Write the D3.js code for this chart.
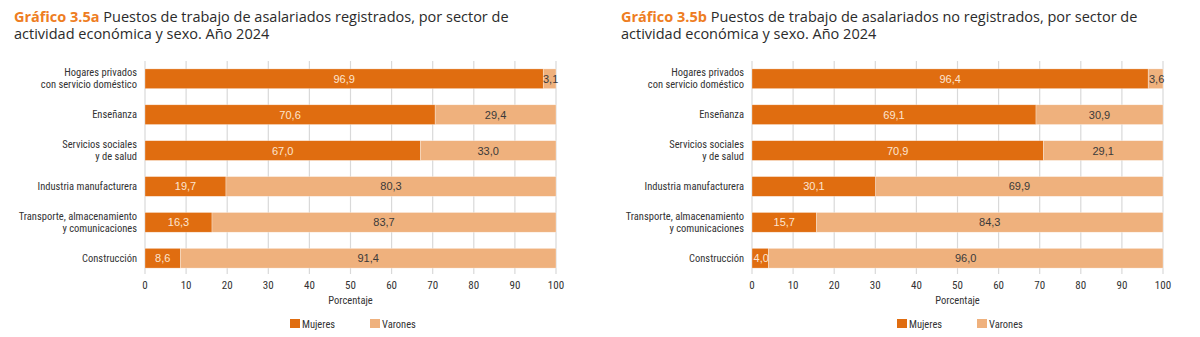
<!DOCTYPE html>
<html>
<head>
<meta charset="utf-8">
<script src="https://cdn.jsdelivr.net/npm/d3@7"></script>
<style>
  body { margin: 0; background: #fff; }
  svg { display: block; }
  .cond { font-family: "Liberation Sans Narrow", "Roboto Condensed", "DejaVu Sans Condensed", sans-serif; }
</style>
</head>
<body>
<div id="chart"></div>
<script>
// categories (top to bottom)
const categories = [
  "Hogares privados\ncon servicio doméstico",
  "Enseñanza",
  "Servicios sociales\ny de salud",
  "Industria manufacturera",
  "Transporte, almacenamiento\ny comunicaciones",
  "Construcción"
];

// Gráfico 3.5a - registrados
const mujeresReg = [96.9, 70.6, 67.0, 19.7, 16.3, 8.6];
const varonesReg = [3.1, 29.4, 33.0, 80.3, 83.7, 91.4];

// Gráfico 3.5b - no registrados
const mujeresNoReg = [96.4, 69.1, 70.9, 30.1, 15.7, 4.0];
const varonesNoReg = [3.6, 30.9, 29.1, 69.9, 84.3, 96.0];

const xTicks = [0, 10, 20, 30, 40, 50, 60, 70, 80, 90, 100];
const seriesNames = ["Mujeres", "Varones"];

const colors = { Mujeres: "#E06D10", Varones: "#EFB17D" };
const fmt = (v) => d3.format(".1f")(v).replace(".", ",");

const W = 1200, H = 337;
const svg = d3.select("#chart").append("svg")
  .attr("width", W).attr("height", H)
  .attr("viewBox", `0 0 ${W} ${H}`);

function drawChart({ x0, code, title, mujeres, varones }) {
  const g = svg.append("g");

  // Title
  const t = g.append("text")
    .attr("x", x0 - 131).attr("y", 22)
    .style("font-family", "'Open Sans', sans-serif")
    .style("font-size", "14.5px")
    .attr("fill", "#2b2b2b");
  t.append("tspan").attr("font-weight", "bold").attr("fill", "#EE7D22").text(code + " ");
  t.append("tspan").text(title[0]);
  g.append("text")
    .attr("x", x0 - 131).attr("y", 39)
    .style("font-family", "'Open Sans', sans-serif")
    .style("font-size", "14.5px")
    .attr("fill", "#2b2b2b")
    .text(title[1]);

  const x = d3.scaleLinear().domain([0, 100]).range([x0, x0 + 411]);
  const y = d3.scaleBand().domain(categories).range([61, 276])
    .paddingInner(0.45).paddingOuter(0.22);

  // Gridlines
  g.append("g").selectAll("line")
    .data(xTicks).enter().append("line")
    .attr("x1", (d) => x(d)).attr("x2", (d) => x(d))
    .attr("y1", 61).attr("y2", 274)
    .attr("stroke", "#d9d9d9").attr("stroke-width", 1.2);

  // Tick labels
  g.append("g").selectAll("text")
    .data(xTicks).enter().append("text")
    .attr("class", "cond")
    .attr("x", (d) => x(d)).attr("y", 289)
    .attr("text-anchor", "middle")
    .style("font-size", "11px")
    .attr("fill", "#333")
    .text((d) => d);

  g.append("text").attr("class", "cond")
    .attr("x", x(50)).attr("y", 304)
    .attr("text-anchor", "middle")
    .style("font-size", "10.5px")
    .attr("fill", "#333")
    .text("Porcentaje");

  // Category labels
  g.append("g").selectAll("text")
    .data(categories).enter().append("text")
    .attr("class", "cond")
    .attr("text-anchor", "end")
    .style("font-size", "10.5px")
    .attr("fill", "#333")
    .each(function (d) {
      const lines = d.split("\n");
      const cy = y(d) + y.bandwidth() / 2;
      const el = d3.select(this);
      lines.forEach((ln, i) => {
        el.append("tspan")
          .attr("x", x0 - 8)
          .attr("y", cy + 3.6 + (i - (lines.length - 1) / 2) * 12)
          .text(ln);
      });
    });

  // Stacked bars
  const rows = categories.map((c, i) => ({ cat: c, Mujeres: mujeres[i], Varones: varones[i] }));
  const stacked = d3.stack().keys(seriesNames)(rows);

  const layer = g.append("g").selectAll("g")
    .data(stacked).enter().append("g")
    .attr("fill", (d) => colors[d.key]);

  layer.selectAll("rect")
    .data((d) => d).enter().append("rect")
    .attr("x", (d) => x(d[0]))
    .attr("y", (d) => y(d.data.cat))
    .attr("width", (d) => x(d[1]) - x(d[0]))
    .attr("height", y.bandwidth())
    .attr("stroke", "#fff").attr("stroke-opacity", 0.5).attr("stroke-width", 0.6);

  layer.selectAll("text")
    .data((d) => d.map((v) => ({ v, key: d.key }))).enter().append("text")
    .attr("x", (d) => x((d.v[0] + d.v[1]) / 2) + (d.v[1] - d.v[0] < 5 ? 1 : 0))
    .attr("y", (d) => y(d.v.data.cat) + y.bandwidth() / 2 + 4)
    .attr("text-anchor", "middle")
    .style("font-family", "'Liberation Sans', Arial, sans-serif")
    .style("font-size", "11px")
    .attr("fill", (d) => d.key === "Mujeres" ? "#fde5d0" : "#3a3a3a")
    .text((d) => fmt(d.v[1] - d.v[0]));

  // Legend
  const lg = g.append("g");
  seriesNames.forEach((s, i) => {
    const lx = x0 + 145 + i * 80;
    lg.append("rect").attr("x", lx).attr("y", 319).attr("width", 10).attr("height", 9)
      .attr("fill", colors[s]);
    lg.append("text").attr("class", "cond")
      .attr("x", lx + 12).attr("y", 327.5)
      .style("font-size", "10.5px")
      .attr("fill", "#333")
      .text(s);
  });
}

drawChart({
  x0: 145,
  code: "Gráfico 3.5a",
  title: ["Puestos de trabajo de asalariados registrados, por sector de", "actividad económica y sexo. Año 2024"],
  mujeres: mujeresReg,
  varones: varonesReg
});

drawChart({
  x0: 752,
  code: "Gráfico 3.5b",
  title: ["Puestos de trabajo de asalariados no registrados, por sector de", "actividad económica y sexo. Año 2024"],
  mujeres: mujeresNoReg,
  varones: varonesNoReg
});
</script>
</body>
</html>
